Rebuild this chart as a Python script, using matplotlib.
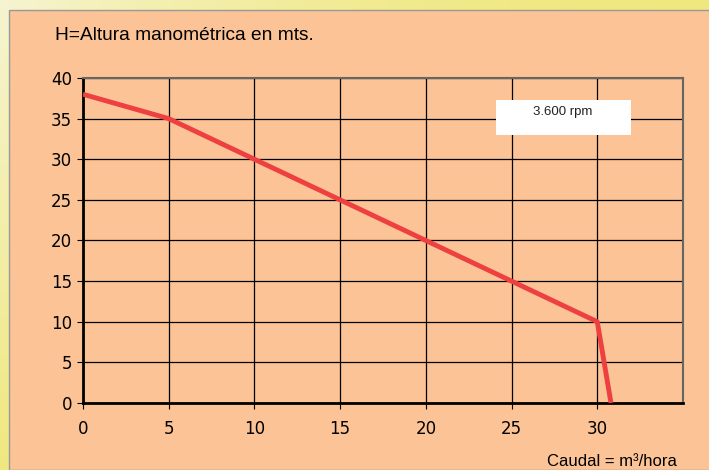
import numpy as np
import matplotlib.pyplot as plt
from matplotlib.patches import Rectangle

# curve data: caudal (m3/hora) vs altura (mts)
caudal = [0, 5, 10, 15, 20, 25, 30, 30.8]
altura = [38, 35, 30, 25, 20, 15, 10, 0]
xticks = [0, 5, 10, 15, 20, 25, 30]
yticks = [0, 5, 10, 15, 20, 25, 30, 35, 40]

peach = '#FBC396'
fig = plt.figure(figsize=(7.09, 4.70), dpi=100)

# yellow background with a soft gradient toward the lower left
bg = fig.add_axes([0, 0, 1, 1])
yy, xx = np.mgrid[0:1:200j, 0:1:200j]
t = np.clip((1 - yy) * 0.8 * (1 - xx) ** 2, 0, 1)
top = np.array([0.94, 0.91, 0.50])
low = np.array([0.97, 0.97, 0.90])
img = top[None, None, :] * (1 - t[..., None]) + low[None, None, :] * t[..., None]
bg.imshow(img, extent=[0, 1, 0, 1], aspect='auto', origin='upper')
bg.add_patch(Rectangle((9 / 709, 0), 1, 1 - 10 / 470, facecolor=peach,
                       edgecolor='#999999', lw=1))
bg.set_xlim(0, 1)
bg.set_ylim(0, 1)
bg.axis('off')

ax = fig.add_axes([83 / 709, 1 - 403 / 470, 600 / 709, 325 / 470])
ax.set_facecolor(peach)
ax.plot(caudal, altura, color='#EE4040', lw=3.5, solid_capstyle='butt', zorder=3)
ax.set_xlim(0, 35)
ax.set_ylim(0, 40)
ax.set_xticks(xticks)
ax.set_yticks(yticks)
ax.grid(True, color='black', lw=0.9)
ax.set_axisbelow(True)
ax.tick_params(labelsize=12, length=4, color='black', pad=8)
ax.tick_params(axis='y', pad=4)
for s in ['left', 'bottom']:
    ax.spines[s].set_linewidth(2)
for s in ['top', 'right']:
    ax.spines[s].set_color('#666666')
    ax.spines[s].set_linewidth(1.5)

fig.text(55 / 709, 1 - 35 / 470, 'H=Altura manométrica en mts.', fontsize=13.8,
         va='center', ha='left', family='Liberation Sans')
fig.text(677 / 709, 1 - 461 / 470, 'Caudal = m³/hora', fontsize=12,
         va='center', ha='right', family='Liberation Sans')

fig.patches.append(Rectangle((496 / 709, 1 - 135 / 470), 135 / 709, 35 / 470,
                             transform=fig.transFigure, facecolor='white',
                             edgecolor='none', zorder=5))
fig.text(563 / 709, 1 - 112 / 470, '3.600 rpm', fontsize=9.5, ha='center',
         va='center', color='#222222', family='Liberation Sans', zorder=6)

fig.savefig('out.png', dpi=100)
